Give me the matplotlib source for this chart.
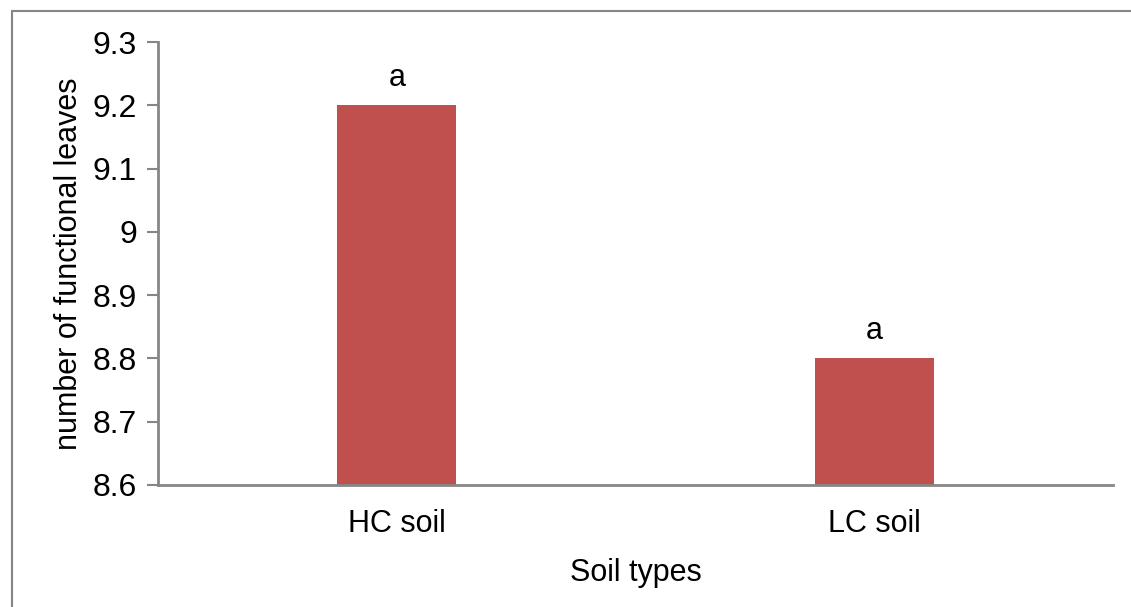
import matplotlib.pyplot as plt
from matplotlib.patches import Rectangle

plt.rcParams['font.family'] = ['Liberation Sans', 'DejaVu Sans']

categories = ["HC soil", "LC soil"]
values = [9.2, 8.8]
letters = ["a", "a"]
yticks = [8.6, 8.7, 8.8, 8.9, 9.0, 9.1, 9.2, 9.3]
ytick_labels = ["8.6", "8.7", "8.8", "8.9", "9", "9.1", "9.2", "9.3"]

axis_grey = "#868686"

fig = plt.figure(figsize=(11.31, 6.07), dpi=100)
ax = fig.add_axes([158 / 1131, 1 - 485 / 607, (1113 - 158) / 1131, (485 - 42) / 607])

x = range(len(categories))
ax.bar(x, [v - 8.6 for v in values], bottom=8.6, width=0.25, color="#C0504D")
for i, v in enumerate(values):
    ax.text(i, v + 0.02, letters[i], ha="center", va="bottom", fontsize=22)

ax.set_xlim(-0.5, 1.5)
ax.set_ylim(8.6, 9.3)
ax.set_yticks(yticks)
ax.set_yticklabels(ytick_labels, fontsize=23)
ax.set_xticks(list(x))
ax.set_xticklabels(categories, fontsize=22)
ax.tick_params(axis="x", length=0, pad=17)
ax.tick_params(axis="y", length=8, width=1.5, color=axis_grey, pad=7)

for side in ["top", "right"]:
    ax.spines[side].set_visible(False)
for side in ["left", "bottom"]:
    ax.spines[side].set_color(axis_grey)
    ax.spines[side].set_linewidth(2)

ax.set_xlabel("Soil types", fontsize=22, labelpad=14)
ax.set_ylabel("number of functional leaves", fontsize=22, labelpad=6)

# outer chart frame, only left and top edges visible
fig.patches.append(Rectangle((12 / 1131, -0.1), 1.2, 1 - 11 / 607 + 0.1,
                             transform=fig.transFigure, fill=False,
                             edgecolor=axis_grey, linewidth=1.5))

fig.savefig("out.png", dpi=100)
